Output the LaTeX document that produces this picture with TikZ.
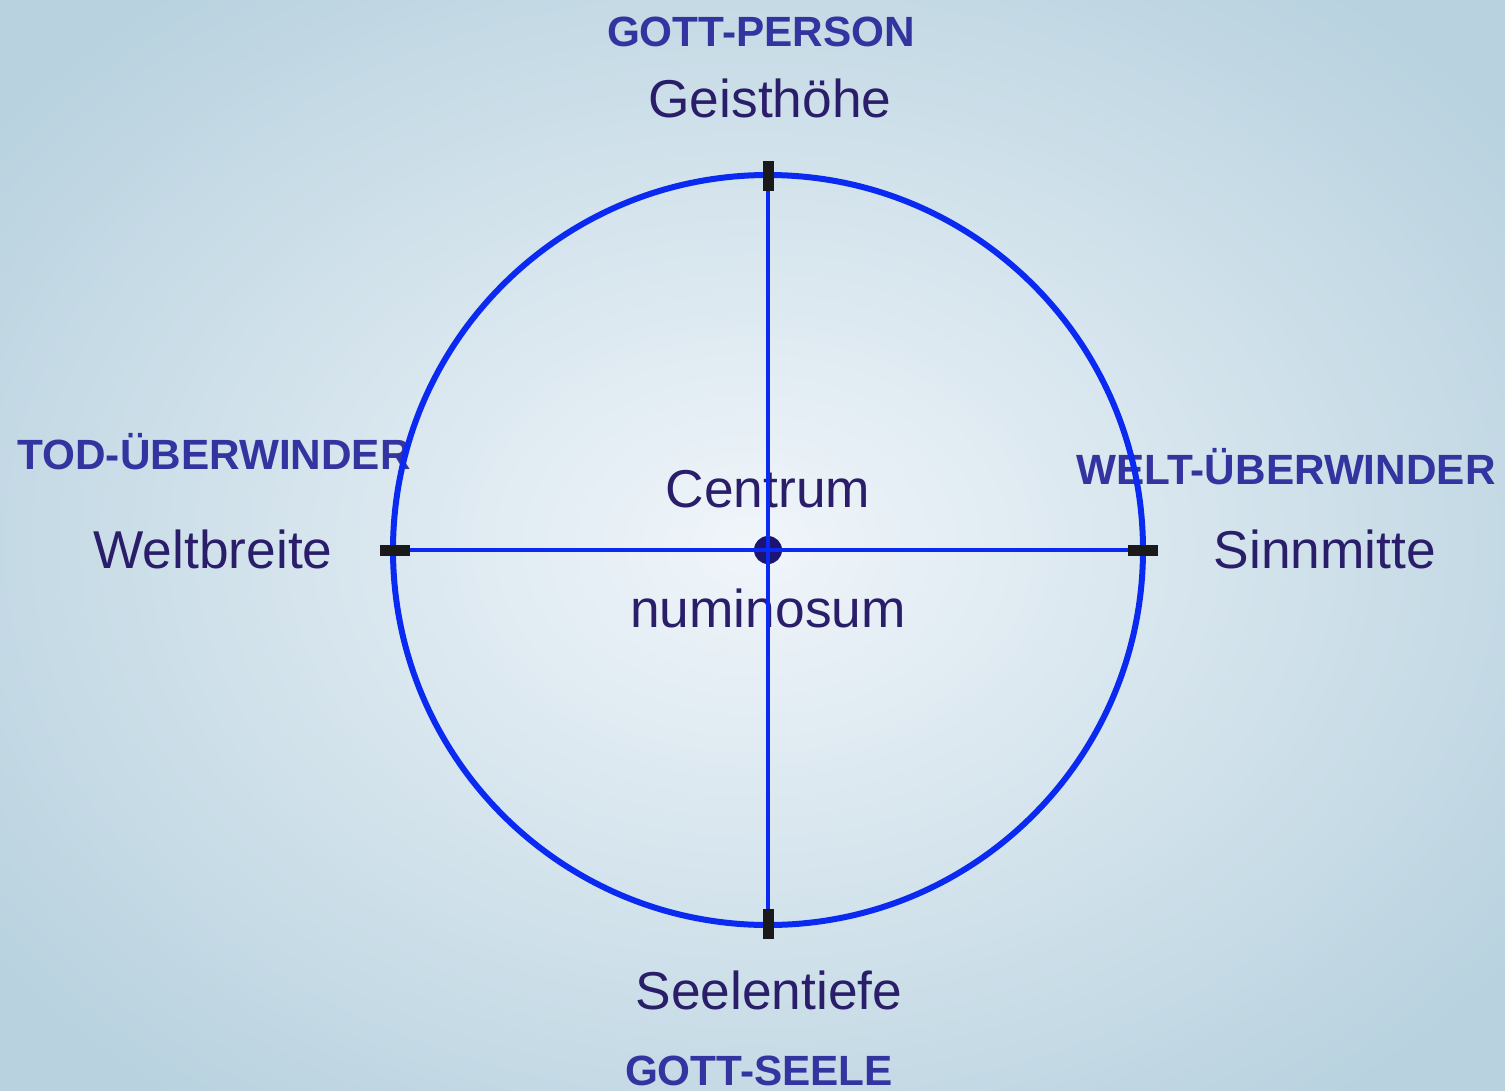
\documentclass[tikz,border=0pt]{standalone}
\usepackage{fontspec}
\setmainfont{Liberation Sans}
\definecolor{bgin}{HTML}{F0F5FA}
\definecolor{bgout}{HTML}{B8D2DF}
\definecolor{ringblue}{HTML}{0A2AF2}
\definecolor{txtnavy}{HTML}{2A1E6A}
\definecolor{boldnavy}{HTML}{3434A0}
\definecolor{dotnavy}{HTML}{1C1470}
\definecolor{tickblk}{HTML}{1A1A1A}
\begin{document}
\begin{tikzpicture}[x=1pt,y=-1pt,
  lbl/.style={anchor=base,text=txtnavy,font=\fontsize{53.3}{60}\selectfont,inner sep=0pt},
  hdr/.style={anchor=base,text=boldnavy,font=\bfseries\fontsize{42.3}{50}\selectfont,inner sep=0pt},
  ring/.style={draw=ringblue,line width=6pt},
  axis/.style={draw=ringblue,line width=4pt},
  vtick/.style={fill=tickblk,minimum width=11pt,minimum height=30pt,inner sep=0pt,draw=none},
  htick/.style={fill=tickblk,minimum width=30pt,minimum height=11pt,inner sep=0pt,draw=none}]
\useasboundingbox (0,0) rectangle (1505,1090);
\shade[inner color=bgin,outer color=bgout] (-200,-160) rectangle (1705,1250);
% texts
\node[hdr] (gp) at (761,46) {GOTT-PERSON};
\node[lbl] (gh) at (770,117) {Geisthöhe};
\node[hdr] (tod) at (214,469) {TOD-ÜBERWINDER};
\node[lbl] (wb) at (213,568) {Weltbreite};
\node[hdr] (welt) at (1286,484) {WELT-ÜBERWINDER};
\node[lbl] (sm) at (1325,568) {Sinnmitte};
\node[lbl] (cen) at (768,507) {Centrum};
\node[lbl] (num) at (768,627) {numinosum};
\node[lbl] (st) at (769,1009) {Seelentiefe};
\node[hdr] (gs) at (759,1085) {GOTT-SEELE};
% geometry
\coordinate (c) at (768,550);
\coordinate (t) at (768,175);
\coordinate (b) at (768,925);
\coordinate (l) at (393,550);
\coordinate (r) at (1143,550);
\draw[ring] (c) circle[radius=375];
\fill[dotnavy] (c) circle[radius=14];
\draw[axis] (t) -- (b);
\draw[axis] (l) -- (r);
\node[vtick] (tt) at (768,176) {};
\node[vtick] (tb) at (768,924) {};
\node[htick] (tl) at (395,550) {};
\node[htick] (tr) at (1143,550) {};
\end{tikzpicture}
\end{document}
